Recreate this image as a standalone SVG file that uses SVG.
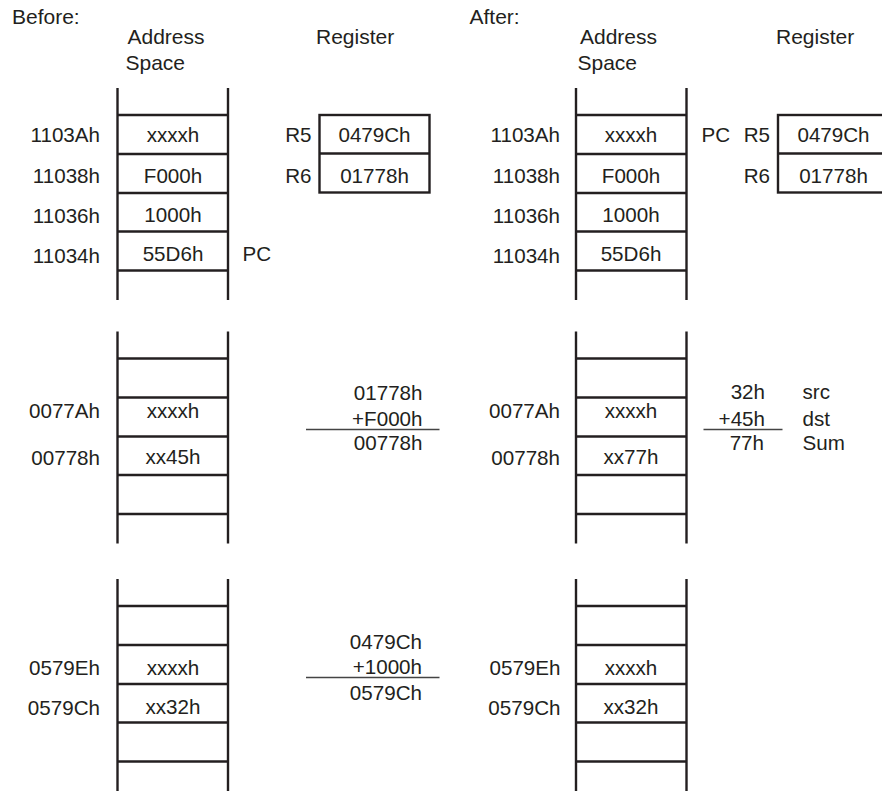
<svg xmlns="http://www.w3.org/2000/svg" width="882" height="792" viewBox="0 0 882 792">
<style>
text{font-family:"Liberation Sans",Arial,sans-serif;font-size:20.6px;fill:#231f20}
.h{font-size:21px}
.e{text-anchor:end}
.m{text-anchor:middle}
.ln{stroke:#231f20;stroke-width:2.4;fill:none}
.sum{stroke:#444;stroke-width:1.4;fill:none}
</style>
<defs>
<g id="mem">
<line x1="0" y1="-27" x2="0" y2="185"/>
<line x1="110.5" y1="-27" x2="110.5" y2="185"/>
<line x1="0" y1="0" x2="110.5" y2="0"/>
<line x1="0" y1="39" x2="110.5" y2="39"/>
<line x1="0" y1="78" x2="110.5" y2="78"/>
<line x1="0" y1="116.5" x2="110.5" y2="116.5"/>
<line x1="0" y1="155.5" x2="110.5" y2="155.5"/>
</g>
</defs>
<rect width="882" height="792" fill="#fff"/>

<g id="before-header">
<text class="h" x="12" y="24">Before:</text>
<text class="h" x="127.5" y="44">Address</text>
<text class="h" x="125.5" y="70">Space</text>
<text class="h" x="316" y="44">Register</text>
</g>
<g id="after-header">
<text class="h" x="469.5" y="24">After:</text>
<text class="h" x="580" y="44">Address</text>
<text class="h" x="577.5" y="70">Space</text>
<text class="h" x="776" y="44">Register</text>
</g>

<g id="before-mem-top">
<use href="#mem" class="ln" x="117.5" y="115"/>
<text class="e" x="100" y="142">1103Ah</text>
<text class="e" x="100" y="183">11038h</text>
<text class="e" x="100" y="223">11036h</text>
<text class="e" x="100" y="263">11034h</text>
<text class="m" x="173" y="142">xxxxh</text>
<text class="m" x="173" y="182.5">F000h</text>
<text class="m" x="173" y="221.5">1000h</text>
<text class="m" x="173" y="261">55D6h</text>
<text x="242.5" y="261">PC</text>
</g>
<g id="before-regs">
<rect class="ln" x="319.5" y="115" width="110" height="77.5"/>
<line class="ln" x1="319.5" y1="153.5" x2="429.5" y2="153.5"/>
<text class="e" x="311.5" y="142">R5</text>
<text class="e" x="311.5" y="182.5">R6</text>
<text class="m" x="374.5" y="142">0479Ch</text>
<text class="m" x="374.5" y="182.5">01778h</text>
</g>

<g id="after-mem-top">
<use href="#mem" class="ln" x="576" y="115"/>
<text class="e" x="560" y="142">1103Ah</text>
<text class="e" x="560" y="183">11038h</text>
<text class="e" x="560" y="223">11036h</text>
<text class="e" x="560" y="263">11034h</text>
<text class="m" x="631" y="142">xxxxh</text>
<text class="m" x="631" y="182.5">F000h</text>
<text class="m" x="631" y="221.5">1000h</text>
<text class="m" x="631" y="261">55D6h</text>
</g>
<g id="after-regs">
<rect class="ln" x="778" y="115" width="120" height="77.5"/>
<line class="ln" x1="778" y1="153.5" x2="890" y2="153.5"/>
<text x="701.5" y="142">PC</text>
<text class="e" x="770" y="142">R5</text>
<text class="e" x="770" y="182.5">R6</text>
<text class="m" x="833.5" y="142">0479Ch</text>
<text class="m" x="833.5" y="182.5">01778h</text>
</g>

<g id="before-mem-mid">
<use href="#mem" class="ln" x="117.5" y="358.5"/>
<text class="e" x="100" y="417.5">0077Ah</text>
<text class="e" x="100" y="465">00778h</text>
<text class="m" x="173" y="417.5">xxxxh</text>
<text class="m" x="173" y="464">xx45h</text>
</g>
<g id="before-sum-mid">
<text class="e" x="422.5" y="400">01778h</text>
<text class="e" x="422.5" y="426">+F000h</text>
<line class="sum" x1="306" y1="429.5" x2="439.5" y2="429.5"/>
<text class="e" x="422.5" y="450">00778h</text>
</g>

<g id="after-mem-mid">
<use href="#mem" class="ln" x="576" y="358.5"/>
<text class="e" x="560" y="417.5">0077Ah</text>
<text class="e" x="560" y="465">00778h</text>
<text class="m" x="631" y="417.5">xxxxh</text>
<text class="m" x="631" y="463.5">xx77h</text>
</g>
<g id="after-sum-mid">
<text class="e" x="765" y="398.5">32h</text>
<text class="e" x="765" y="425.5">+45h</text>
<line class="sum" x1="703.5" y1="429.5" x2="782.5" y2="429.5"/>
<text class="e" x="764" y="450">77h</text>
<text x="802.5" y="398.5">src</text>
<text x="802.5" y="425.5">dst</text>
<text x="802.5" y="450">Sum</text>
</g>

<g id="before-mem-bot">
<use href="#mem" class="ln" x="117.5" y="606"/>
<text class="e" x="100" y="674.5">0579Eh</text>
<text class="e" x="100" y="715">0579Ch</text>
<text class="m" x="173" y="674.5">xxxxh</text>
<text class="m" x="173" y="713.5">xx32h</text>
</g>
<g id="before-sum-bot">
<text class="e" x="422" y="648.5">0479Ch</text>
<text class="e" x="422" y="673.5">+1000h</text>
<line class="sum" x1="306" y1="677.5" x2="439.5" y2="677.5"/>
<text class="e" x="422" y="699.5">0579Ch</text>
</g>

<g id="after-mem-bot">
<use href="#mem" class="ln" x="576" y="606"/>
<text class="e" x="560.5" y="674.5">0579Eh</text>
<text class="e" x="560.5" y="715">0579Ch</text>
<text class="m" x="631" y="674.5">xxxxh</text>
<text class="m" x="631" y="713.5">xx32h</text>
</g>
</svg>
